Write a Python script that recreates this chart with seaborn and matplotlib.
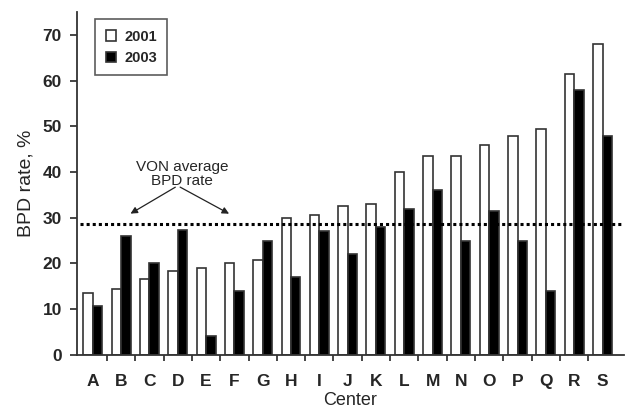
import matplotlib
matplotlib.use("Agg")
import matplotlib.pyplot as plt
import numpy as np
import pandas as pd
import seaborn as sns

centers = list("ABCDEFGHIJKLMNOPQRS")
rate_2001 = [13.5, 14.5, 16.7, 18.3, 19.0, 20.0, 20.7, 30.0, 30.7, 32.5,
             33.0, 40.0, 43.5, 43.5, 46.0, 48.0, 49.5, 61.5, 68.0]
rate_2003 = [10.6, 26.0, 20.0, 27.3, 4.2, 14.0, 25.0, 17.0, 27.0, 22.0,
             28.0, 32.0, 36.0, 25.0, 31.5, 25.0, 14.0, 58.0, 48.0]
years = ["2001", "2003"]
von_average = 28.7

df = pd.DataFrame({
    "center": centers * 2,
    "year": [years[0]] * len(centers) + [years[1]] * len(centers),
    "rate": rate_2001 + rate_2003,
})

sns.set_style("ticks")
plt.rcParams["font.family"] = ["Liberation Sans", "DejaVu Sans"]

fig = plt.figure(figsize=(6.27, 4.18), dpi=100)
ax = fig.add_axes([0.123, 0.151, 0.872, 0.82])

sns.barplot(data=df, x="center", y="rate", hue="year",
            palette={"2001": "white", "2003": "black"},
            edgecolor="#333333", linewidth=1.2, width=0.67, gap=0.0,
            ax=ax)

ax.axhline(von_average, color="black", linestyle=(0, (1, 1)), linewidth=2.2,
           xmin=0.005, xmax=0.995, zorder=5)

ax.text(3.15, 36.6, "VON average\nBPD rate", ha="center", va="bottom",
        fontsize=11, linespacing=1.0)
for x_end in (1.25, 4.9):
    ax.annotate("", xy=(x_end, 30.6), xytext=(3.0, 37.0),
                arrowprops=dict(arrowstyle="-|>", color="#222222", lw=0.9,
                                mutation_scale=10))

ax.set_xlim(-0.55, 18.75)
ax.set_ylim(0, 75)
ax.set_yticks(np.arange(0, 71, 10))
ax.set_yticklabels([str(v) for v in range(0, 71, 10)], fontweight="bold",
                   fontsize=12.5)
ax.set_xticks(range(len(centers)))
ax.set_xticklabels(centers, fontweight="bold", fontsize=12.5)
ax.tick_params(axis="x", which="major", length=0, pad=14)
ax.set_xticks(np.arange(0.5, len(centers) - 1, 1.0), minor=True)
ax.tick_params(axis="x", which="minor", length=4, width=1.2, direction="out")
ax.tick_params(axis="y", length=5, width=1.2, pad=6)

ax.set_xlabel("Center", fontsize=13, labelpad=2)
ax.set_ylabel("BPD rate, %", fontsize=14, labelpad=6)

for side in ("top", "right"):
    ax.spines[side].set_visible(False)
for side in ("left", "bottom"):
    ax.spines[side].set_linewidth(1.3)
    ax.spines[side].set_color("#333333")

handles, labels = ax.get_legend_handles_labels()
leg = ax.legend(handles, labels, loc="upper left", bbox_to_anchor=(0.02, 1.0),
                frameon=True, fancybox=False, edgecolor="#333333",
                prop={"weight": "bold", "size": 10.5}, handlelength=0.7,
                handleheight=0.7, borderpad=0.7, labelspacing=0.5,
                handletextpad=0.6)
leg.get_frame().set_linewidth(1.2)

fig.savefig("out.png", dpi=100)
